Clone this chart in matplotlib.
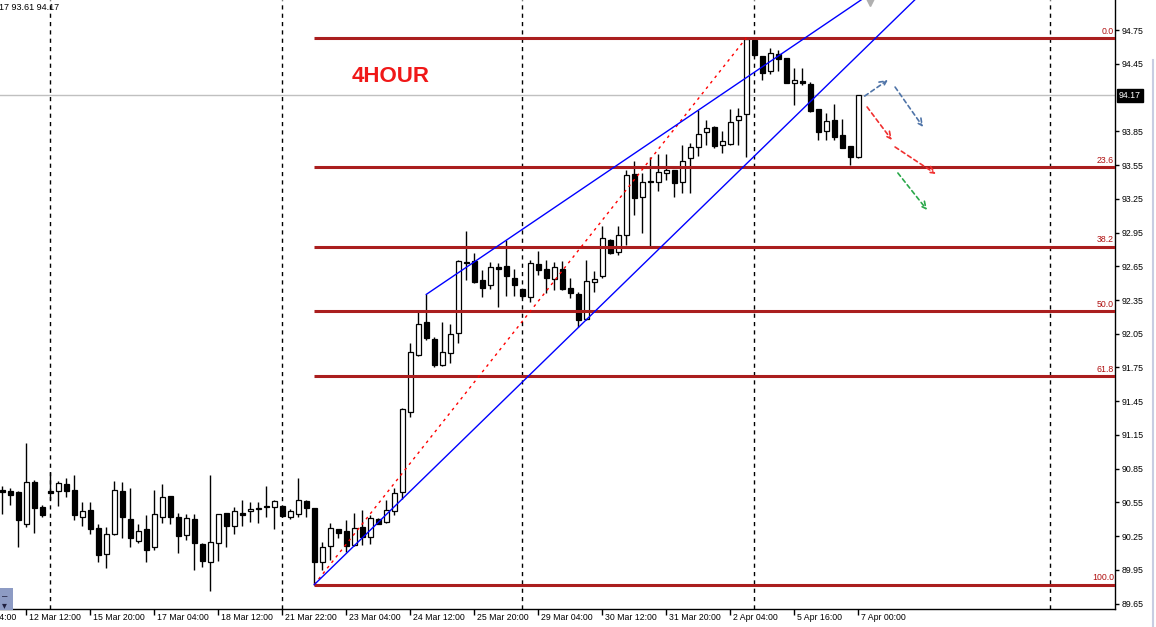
import numpy as np
import matplotlib.pyplot as plt
import matplotlib.transforms as mtransforms
from matplotlib.patches import Rectangle
from matplotlib.lines import Line2D

plt.rcParams['font.family'] = ['Liberation Sans', 'DejaVu Sans']

# 4h candles, bar index 0..107
opens = [90.66, 90.65, 90.64, 90.36, 90.73, 90.51, 90.65, 90.65, 90.71, 90.66,
         90.42, 90.48, 90.32, 90.09, 90.27, 90.65, 90.40, 90.21, 90.31, 90.15,
         90.42, 90.61, 90.42, 90.26, 90.40, 90.18, 90.02, 90.19, 90.46, 90.34,
         90.46, 90.47, 90.49, 90.52, 90.51, 90.52, 90.42, 90.45, 90.56, 90.50,
         90.02, 90.16, 90.31, 90.30, 90.17, 90.33, 90.24, 90.40, 90.38, 90.47,
         90.64, 91.35, 91.86, 92.15, 92.00, 91.77, 91.88, 92.06, 92.69, 92.70,
         92.53, 92.48, 92.64, 92.65, 92.55, 92.45, 92.38, 92.67, 92.63, 92.54,
         92.63, 92.46, 92.40, 92.18, 92.51, 92.56, 92.88, 92.78, 92.93, 93.47,
         93.27, 93.41, 93.40, 93.48, 93.51, 93.40, 93.61, 93.71, 93.84, 93.89,
         93.73, 93.74, 93.95, 94.00, 94.66, 94.52, 94.39, 94.54, 94.50, 94.28,
         94.30, 94.27, 94.05, 93.85, 93.95, 93.82, 93.72, 93.62]
highs = [90.70, 90.68, 90.65, 91.08, 90.75, 90.53, 90.82, 90.74, 90.77, 90.79,
         90.55, 90.55, 90.36, 90.33, 90.74, 90.73, 90.68, 90.36, 90.44, 90.66,
         90.71, 90.61, 90.46, 90.45, 90.45, 90.19, 90.79, 90.45, 90.46, 90.51,
         90.57, 90.55, 90.55, 90.70, 90.57, 90.52, 90.49, 90.77, 90.57, 90.50,
         90.20, 90.37, 90.31, 90.39, 90.46, 90.48, 90.44, 90.41, 90.57, 90.68,
         91.39, 91.97, 92.24, 92.40, 92.02, 92.15, 92.14, 92.71, 92.96, 92.77,
         92.62, 92.69, 92.68, 92.88, 92.63, 92.45, 92.71, 92.79, 92.71, 92.69,
         92.70, 92.55, 92.42, 92.71, 92.61, 93.01, 92.89, 93.01, 93.51, 93.59,
         93.48, 93.62, 93.65, 93.65, 93.51, 93.73, 93.75, 94.04, 93.95, 93.90,
         93.85, 94.05, 94.06, 94.68, 94.67, 94.52, 94.59, 94.57, 94.50, 94.41,
         94.41, 94.29, 94.05, 94.01, 94.09, 93.96, 93.72, 94.17]
lows = [90.45, 90.53, 90.15, 90.33, 90.28, 90.42, 90.57, 90.52, 90.60, 90.39,
        90.34, 90.27, 90.02, 89.97, 90.26, 90.23, 90.15, 90.19, 90.02, 90.13,
        90.37, 90.36, 90.10, 90.22, 89.95, 89.98, 89.76, 90.03, 90.15, 90.27,
        90.34, 90.38, 90.37, 90.42, 90.31, 90.42, 90.40, 90.42, 90.42, 89.82,
        89.95, 90.04, 90.23, 90.11, 90.16, 90.17, 90.18, 90.36, 90.37, 90.44,
        90.58, 91.31, 91.85, 91.99, 91.75, 91.76, 91.79, 91.97, 92.53, 92.50,
        92.38, 92.45, 92.29, 92.39, 92.39, 92.37, 92.33, 92.57, 92.41, 92.44,
        92.44, 92.37, 92.11, 92.17, 92.42, 92.55, 92.76, 92.75, 92.84, 93.11,
        92.95, 92.83, 93.32, 93.42, 93.27, 93.30, 93.30, 93.63, 93.73, 93.70,
        93.66, 93.73, 93.73, 93.62, 94.52, 94.31, 94.36, 94.39, 94.28, 94.08,
        94.26, 94.02, 93.77, 93.77, 93.77, 93.70, 93.55, 93.61]
closes = [90.64, 90.62, 90.39, 90.73, 90.50, 90.44, 90.63, 90.72, 90.65, 90.44,
          90.47, 90.31, 90.08, 90.27, 90.66, 90.42, 90.23, 90.30, 90.13, 90.45,
          90.60, 90.42, 90.25, 90.41, 90.19, 90.03, 90.20, 90.45, 90.34, 90.47,
          90.44, 90.49, 90.50, 90.51, 90.56, 90.43, 90.47, 90.57, 90.50, 90.02,
          90.15, 90.32, 90.28, 90.16, 90.32, 90.24, 90.41, 90.36, 90.48, 90.63,
          91.38, 91.89, 92.14, 92.01, 91.77, 91.89, 92.05, 92.70, 92.68, 92.51,
          92.46, 92.64, 92.63, 92.56, 92.48, 92.39, 92.68, 92.62, 92.55, 92.64,
          92.45, 92.41, 92.17, 92.52, 92.54, 92.90, 92.77, 92.93, 93.46, 93.26,
          93.40, 93.40, 93.49, 93.51, 93.39, 93.59, 93.71, 93.83, 93.88, 93.72,
          93.76, 93.93, 93.99, 94.67, 94.53, 94.37, 94.55, 94.49, 94.28, 94.31,
          94.28, 94.03, 93.84, 93.94, 93.80, 93.70, 93.62, 94.17]

date_ticks = [3, 11, 19, 27, 35, 43, 51, 59, 67, 75, 83, 91, 99, 107]
date_labels = ['12 Mar 12:00', '15 Mar 20:00', '17 Mar 04:00', '18 Mar 12:00',
               '21 Mar 22:00', '23 Mar 04:00', '24 Mar 12:00', '25 Mar 20:00',
               '29 Mar 04:00', '30 Mar 12:00', '31 Mar 20:00', '2 Apr 04:00',
               '5 Apr 16:00', '7 Apr 00:00']
hidden_tick = -5
hidden_label = '11 Mar 04:00'
separators = [6, 35, 65, 94, 131]
price_ticks = [89.65, 89.95, 90.25, 90.55, 90.85, 91.15, 91.45, 91.75, 92.05,
               92.35, 92.65, 92.95, 93.25, 93.55, 93.85, 94.45, 94.75]
fib_ratios = [0.0, 23.6, 38.2, 50.0, 61.8, 100.0]
fib_low_bar = 39
fib_high_bar = 93
last_price = 94.17

# channel lines: anchor bar, anchor price, slope per bar
upper_anchor = (53, 92.40, 0.04816)
lower_anchor = (39, 89.82, 0.06925)

# forecast arrows (start bar, start price, end bar, end price, colour)
arrows = [
    (107.8, 94.163, 110.7, 94.306, '#4f74a8'),
    (111.6, 94.243, 115.1, 93.888, '#4f74a8'),
    (108.1, 94.066, 111.2, 93.772, '#f03030'),
    (111.6, 93.710, 116.7, 93.470, '#f03030'),
    (111.95, 93.479, 115.6, 93.150, '#2aa84a'),
]

W, H = 1156, 627
fig = plt.figure(figsize=(W / 100, H / 100), dpi=100)
ax = fig.add_axes([0, 18 / H, 1115 / W, 609 / H])
ax.set_xlim(-0.29, 139.09)
ax.set_ylim(89.603, 95.017)

x = np.arange(len(opens))
o = np.array(opens)
c = np.array(closes)

# separators and current price line
for s in separators:
    ax.axvline(s, color='black', lw=1, ls=(0, (3, 3)), zorder=1)
ax.axhline(last_price, color='#c0c0c0', lw=1, zorder=1)

# candles
ax.vlines(x, lows, highs, color='black', lw=1, zorder=2)
bull = c >= o
body_h = np.maximum(np.abs(c - o), 0.008)
bottoms = np.minimum(o, c)
ax.bar(x[bull], body_h[bull], bottom=bottoms[bull], width=0.6,
       facecolor='white', edgecolor='black', lw=0.9, zorder=3)
ax.bar(x[~bull], body_h[~bull], bottom=bottoms[~bull], width=0.6,
       facecolor='black', edgecolor='black', lw=0.9, zorder=3)

# fibonacci
fib_hi = highs[fib_high_bar]
fib_lo = lows[fib_low_bar]
for r in fib_ratios:
    lvl = fib_hi - r / 100 * (fib_hi - fib_lo)
    ax.hlines(lvl, fib_low_bar, 139.09, color='#aa1e1e', lw=2.2, zorder=5)
    ax.text(138.95, lvl + 0.02, f'{r:.1f}', color='#b01010', fontsize=6.3,
            ha='right', va='bottom', zorder=6)
ax.plot([fib_low_bar, fib_high_bar], [fib_lo, fib_hi], color='red', lw=1,
        ls=(0, (2, 3)), zorder=5)

# channel
b0, p0, m = upper_anchor
ax.plot([b0, 112], [p0, p0 + m * (112 - b0)], color='#0000ff', lw=1, zorder=5)
b0, p0, m = lower_anchor
ax.plot([b0, 116], [p0, p0 + m * (116 - b0)], color='#0000ff', lw=1, zorder=5)

for x0, y0, x1, y1, col in arrows:
    ax.annotate('', xy=(x1, y1), xytext=(x0, y0),
                arrowprops=dict(arrowstyle='->', color=col, lw=1.2,
                                ls=(0, (2.5, 2)), mutation_scale=12,
                                shrinkA=0, shrinkB=0), zorder=6)

ax.plot([108.5], [95.0], marker='v', color='#b0b0b0', ms=6, clip_on=False, zorder=6)

ax.text(0.3507, 0.875, '4HOUR', transform=ax.transAxes, color='#f01818',
        fontsize=16, fontweight='bold', ha='center', va='center')

# axes styling
for sp in ['left', 'top']:
    ax.spines[sp].set_visible(False)
for sp in ['right', 'bottom']:
    ax.spines[sp].set_linewidth(1)
ax.yaxis.tick_right()
ax.set_yticks(price_ticks)
ax.set_yticklabels([f'{v:.2f}' for v in price_ticks])
ax.tick_params(axis='y', length=3, width=1, pad=2, labelsize=6.3)
ax.set_xticks(date_ticks)
ax.set_xticklabels([])
ax.tick_params(axis='x', length=4, width=1)
for t, lab in zip([hidden_tick] + date_ticks, [hidden_label] + date_labels):
    ax.annotate(lab, xy=(t, 0), xycoords=('data', 'axes fraction'),
                xytext=(3, -4), textcoords='offset pixels', ha='left', va='top',
                fontsize=6.3, annotation_clip=False)

trans = mtransforms.blended_transform_factory(ax.transAxes, ax.transData)
ax.text(1 + 4 / 1115, last_price, f'{last_price:.2f}', transform=trans,
        color='white', fontsize=6.3, va='center', ha='left',
        bbox=dict(boxstyle='square,pad=0.2', fc='black', ec='black'))

fig.text(-0.001, 1 - 8 / H, '17 93.61 94.17', fontsize=6.5, va='center', ha='left')

fig.patches.append(Rectangle((0, 17 / H), 13 / W, 22 / H, transform=fig.transFigure,
                             facecolor='#8d9bc4', edgecolor='none'))
fig.text(2 / W, 31 / H, '–', fontsize=7, va='center', color='#202040')
fig.text(2 / W, 22 / H, '▾', fontsize=7, va='center', color='#202040',
         family='DejaVu Sans')
fig.lines.append(Line2D([1153 / W, 1153 / W], [0, 1 - 60 / H],
                        transform=fig.transFigure, color='#c8cde2', lw=1.5))

fig.savefig('out.png', dpi=100)
